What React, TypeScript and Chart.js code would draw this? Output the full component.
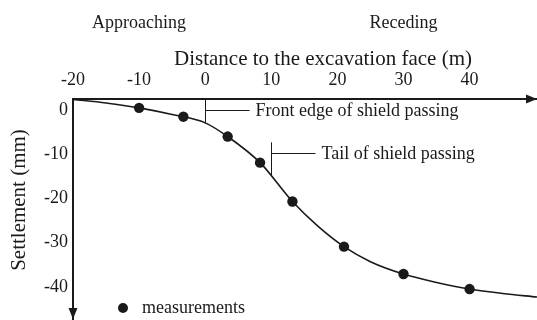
import React, { useEffect, useRef } from "react";
import { Chart, registerables } from "chart.js";

Chart.register(...registerables);

const FONT = '"Liberation Serif", "Times New Roman", Times, serif';
const INK = "#1a1a1a";

// ---- data ----
const xTickValues = [-20, -10, 0, 10, 20, 30, 40];
const yTickValues = [0, -10, -20, -30, -40];
const xRange = [-20, 50.2];
const yRange = [-47.5, 2.5];

const measuredDistance = [-10, -3.3, 3.4, 8.3, 13.2, 21, 30, 40];
const measuredSettlement = [0.5, -1.5, -6.0, -11.9, -20.7, -30.9, -37.1, -40.5];

const curveDistance = [-20, -15, -10, -5, 0, 3.4, 8.3, 13.2, 17, 21, 25, 30, 35, 40, 45, 50.2];
const curveSettlement = [2.4, 1.6, 0.5, -1.0, -2.9, -6.0, -11.9, -20.7, -26.2, -30.9, -34.3, -37.1, -39.0, -40.5, -41.5, -42.3];

const eventDistance = [0, 10];
const eventLabels = ["Front edge of shield passing", "Tail of shield passing"];
const eventLeaderLevel = [0, -9.7];
const eventMarkerTop = [2.5, -7.3];

const phaseLabels = ["Approaching", "Receding"];
const phaseCenters = [-10, 30];

const xTitle = "Distance to the excavation face (m)";
const yTitle = "Settlement (mm)";
const legendLabel = "measurements";

function curveAt(x: number): number {
  for (let i = 0; i < curveDistance.length - 1; i++) {
    const a = curveDistance[i], b = curveDistance[i + 1];
    if (x >= a && x <= b) {
      const t = (x - a) / (b - a);
      return curveSettlement[i] + t * (curveSettlement[i + 1] - curveSettlement[i]);
    }
  }
  return curveSettlement[curveSettlement.length - 1];
}

const overlay = {
  id: "overlay",
  afterDraw(chart: any) {
    const { ctx, chartArea, scales } = chart;
    const xs = scales.x;
    const ys = scales.y;
    const W = chart.width;
    const H = chart.height;
    ctx.save();
    ctx.fillStyle = INK;
    ctx.strokeStyle = INK;

    // arrowheads
    const top = chartArea.top;
    const left = chartArea.left;
    ctx.beginPath();
    ctx.moveTo(W, top);
    ctx.lineTo(W - 11, top - 4.5);
    ctx.lineTo(W - 11, top + 4.5);
    ctx.closePath();
    ctx.fill();
    ctx.beginPath();
    ctx.moveTo(left, H - 1);
    ctx.lineTo(left - 4.5, H - 12);
    ctx.lineTo(left + 4.5, H - 12);
    ctx.closePath();
    ctx.fill();

    // event markers
    ctx.lineWidth = 1;
    ctx.font = `18px ${FONT}`;
    ctx.textAlign = "left";
    ctx.textBaseline = "alphabetic";
    eventDistance.forEach((d, i) => {
      const px = Math.round(xs.getPixelForValue(d)) + 0.5;
      const yTop = ys.getPixelForValue(eventMarkerTop[i]);
      const yBot = ys.getPixelForValue(curveAt(d));
      const yLead = Math.round(ys.getPixelForValue(eventLeaderLevel[i])) + 0.5;
      ctx.beginPath();
      ctx.moveTo(px, yTop);
      ctx.lineTo(px, yBot);
      ctx.moveTo(px, yLead);
      ctx.lineTo(px + 44, yLead);
      ctx.stroke();
      ctx.fillText(eventLabels[i], px + 50, yLead + 5.5);
    });

    // phase labels
    ctx.textAlign = "center";
    phaseLabels.forEach((t, i) => {
      ctx.fillText(t, xs.getPixelForValue(phaseCenters[i]), 28);
    });

    // axis titles
    ctx.font = `21px ${FONT}`;
    ctx.fillText(xTitle, 323, 65);
    ctx.save();
    ctx.translate(25, 200);
    ctx.rotate(-Math.PI / 2);
    ctx.textAlign = "center";
    ctx.fillText(yTitle, 0, 0);
    ctx.restore();

    // legend
    ctx.beginPath();
    ctx.arc(chartArea.left + 50, H - 12, 5, 0, Math.PI * 2);
    ctx.fill();
    ctx.font = `18px ${FONT}`;
    ctx.textAlign = "left";
    ctx.fillText(legendLabel, chartArea.left + 69, H - 7);

    ctx.restore();
  },
};

export default function App() {
  const canvasRef = useRef<HTMLCanvasElement | null>(null);

  useEffect(() => {
    const canvas = canvasRef.current;
    if (!canvas) return;
    const chart = new Chart(canvas, {
      type: "scatter",
      data: {
        datasets: [
          {
            label: "fit",
            data: curveDistance.map((x, i) => ({ x, y: curveSettlement[i] })),
            showLine: true,
            borderColor: INK,
            borderWidth: 1.6,
            pointRadius: 0,
            cubicInterpolationMode: "monotone",
            fill: false,
          },
          {
            label: legendLabel,
            data: measuredDistance.map((x, i) => ({ x, y: measuredSettlement[i] })),
            showLine: false,
            pointRadius: 5.2,
            pointBackgroundColor: INK,
            pointBorderColor: INK,
            pointBorderWidth: 0,
          },
        ],
      },
      options: {
        animation: false,
        responsive: false,
        maintainAspectRatio: false,
        layout: { padding: 0, autoPadding: false },
        plugins: {
          legend: { display: false },
          tooltip: { enabled: false },
          title: { display: false },
        },
        scales: {
          x: {
            type: "linear",
            position: "top",
            min: xRange[0],
            max: xRange[1],
            grid: { display: false, drawTicks: false },
            border: { display: true, color: INK, width: 2 },
            ticks: {
              font: { family: FONT, size: 18 },
              color: INK,
              padding: 8,
              maxRotation: 0,
              autoSkip: false,
              callback: (v: any) => String(v),
            },
            afterBuildTicks: (s: any) => {
              s.ticks = xTickValues.map((v) => ({ value: v }));
            },
            afterFit: (s: any) => {
              s.height = 99;
              s.paddingLeft = 0;
              s.paddingRight = 0;
              s.paddingTop = 0;
              s.paddingBottom = 0;
            },
          },
          y: {
            type: "linear",
            position: "left",
            min: yRange[0],
            max: yRange[1],
            grid: { display: false, drawTicks: false },
            border: { display: true, color: INK, width: 2 },
            ticks: {
              font: { family: FONT, size: 18 },
              color: INK,
              padding: 5,
              autoSkip: false,
              callback: (v: any) => String(v),
            },
            afterBuildTicks: (s: any) => {
              s.ticks = yTickValues.map((v) => ({ value: v }));
            },
            afterFit: (s: any) => {
              s.width = 73;
              s.paddingLeft = 0;
              s.paddingRight = 0;
              s.paddingTop = 0;
              s.paddingBottom = 0;
            },
          },
        },
      },
      plugins: [overlay],
    } as any);
    return () => chart.destroy();
  }, []);

  return (
    <div style={{ position: "absolute", left: 0, top: 0, width: 537, height: 320, background: "#fff" }}>
      <canvas ref={canvasRef} width={537} height={320} style={{ display: "block" }} />
    </div>
  );
}
